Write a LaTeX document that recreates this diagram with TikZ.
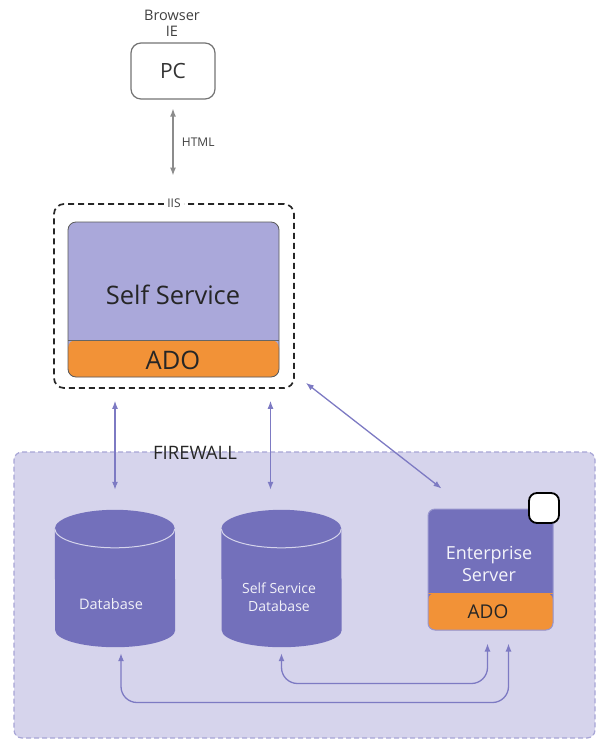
\documentclass[tikz,border=0pt]{standalone}
\usepackage{fontspec}
\setmainfont{Open Sans}
\usetikzlibrary{shapes.geometric, arrows.meta, positioning, calc}

\definecolor{ssfill}{HTML}{AAA8DA}
\definecolor{cylfill}{HTML}{7370BB}
\definecolor{fwfill}{HTML}{D6D4EC}
\definecolor{fwdraw}{HTML}{A7A5D6}
\definecolor{linkcol}{HTML}{7D7AC3}
\definecolor{adofill}{HTML}{F29237}
\definecolor{esdraw}{HTML}{9896CE}

\tikzset{
  fsize/.style 2 args={font=\fontsize{#1}{#2}\selectfont},
  link/.style={draw=linkcol, line width=1.3pt, {Latex[length=8pt,width=6pt]}-{Latex[length=8pt,width=6pt]}},
  dbslot/.style={rectangle, minimum width=120, minimum height=137, inner sep=0pt},
  adopart/.style 2 args={path picture={
      \fill[adofill] (path picture bounding box.south west) rectangle
                     ([yshift=#1]path picture bounding box.south east);
      \draw[draw=#2] ([yshift=#1]path picture bounding box.south west) --
                     ([yshift=#1]path picture bounding box.south east);}},
}

\begin{document}
\begin{tikzpicture}[x=1pt, y=-1pt]
\useasboundingbox (0,0) rectangle (599,742);

% firewall zone
\node[rectangle, rounded corners=8, draw=fwdraw, fill=fwfill, line width=1.2pt,
      dash pattern=on 5pt off 3pt, minimum width=581, minimum height=286] (fw) at (304.5,595) {};
\node[fsize={18.5}{20}, text=black!85] (fwlabel) at (195,453) {FIREWALL};

% client
\node[rectangle, rounded corners=10, draw=black!55, line width=1.2pt,
      minimum width=84, minimum height=56, fsize={21}{24}, text=black!80] (pc) at (173,71) {PC};
\node[align=center, fsize={14.5}{16}, text=black!75] (browser) at (172,23) {Browser\\IE};
\draw[draw=black!45, line width=1.3pt, {Latex[length=8pt,width=6pt]}-{Latex[length=8pt,width=6pt]}]
  ($(pc.south)+(0,9)$) -- ($(pc.south)+(0,76)$) node[midway, right=5pt, fsize={12}{14}, text=black!75] (html) {HTML};

% web server
\node[rectangle, rounded corners=10, draw=black!85, line width=1.7pt, dash pattern=on 6pt off 4pt,
      minimum width=240, minimum height=184] (iis) at (174,296) {};
\node[fill=white, inner sep=3pt, fsize={12}{14}, text=black!75] (iislabel) at (iis.north) {IIS};
\node[rectangle, rounded corners=8, draw=black!65, line width=0.8pt, fill=ssfill,
      minimum width=211, minimum height=155, adopart={37pt}{black!60}] (ss) at (173.5,299.5) {};
\node[fsize={25.5}{28}, text=black!85] (sstext) at (173,295) {Self Service};
\node[fsize={25.5}{28}, text=black!85] (ssado) at (173,360) {ADO};

% data tier
\node[dbslot] (db) at (115,578.5) {};
\node[dbslot] (ssdb) at (281.5,578.5) {};
\foreach \cyl in {db, ssdb} {
  \fill[cylfill] ($(\cyl.north west)+(0,19)$) arc[start angle=180, end angle=360, x radius=60, y radius=19]
    -- ($(\cyl.south east)+(0,-17)$) arc[start angle=0, end angle=180, x radius=60, y radius=17] -- cycle;
  \draw[white!70!cylfill, line width=1pt] ($(\cyl.north west)+(0,19)$) arc[start angle=180, end angle=0, x radius=60, y radius=19];
}
\node[fsize={14.5}{16}, text=white!90!cylfill] (dbtext) at (111,604) {Database};
\node[align=center, fsize={14}{18}, text=white!90!cylfill] (ssdbtext) at (279,597) {Self Service\\Database};

\node[rectangle, rounded corners=7, draw=esdraw, line width=1pt, fill=cylfill,
      minimum width=125, minimum height=121, adopart={37pt}{adofill}] (es) at (490.5,569.5) {};
\node[align=center, fsize={18}{22}, text=white!92!cylfill] (estext) at (489,564) {Enterprise\\Server};
\node[fsize={19}{22}, text=black!85] (esado) at (488,612) {ADO};
\node[rectangle, rounded corners=8, draw=black, fill=white, line width=1.8pt,
      minimum size=30] (esflag) at (544,508) {};

% connections
\draw[link] ($(iis.south -| db.north)+(0,12)$) -- ($(db.north)+(0,-20)$);
\draw[link] ($(iis.south -| ssdb.north)+(-11,12)$) -- ($(ssdb.north)+(-11,-20)$);
\draw[link] ($(iis.south east)+(11,-6)$) -- ($(es.north west)+(14,-20)$);
\draw[link, rounded corners=16] ($(db.south)+(6,6)$) |- ($(es.south)+(18,72)$) -- ($(es.south)+(18,13)$);
\draw[link, rounded corners=16] ($(ssdb.south)+(0,6)$) |- ($(es.south)+(-3,53)$) -- ($(es.south)+(-3,13)$);
\end{tikzpicture}
\end{document}
